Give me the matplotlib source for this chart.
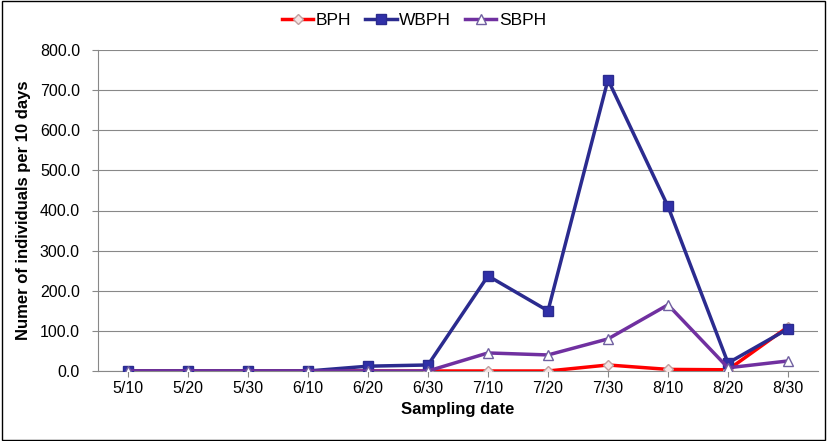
import matplotlib.pyplot as plt
from matplotlib.patches import Rectangle
import numpy as np

plt.rcParams['font.family'] = ['Liberation Sans', 'DejaVu Sans']

dates = ['5/10', '5/20', '5/30', '6/10', '6/20', '6/30', '7/10', '7/20', '7/30', '8/10', '8/20', '8/30']
bph = [0, 0, 0, 0, 0, 0, 0, 0, 15, 4, 3, 110]
wbph = [0, 0, 0, 0, 12, 15, 237, 150, 726, 410, 20, 105]
sbph = [0, 0, 0, 0, 0, 0, 45, 40, 80, 165, 8, 25]

fig = plt.figure(figsize=(8.27, 4.41), dpi=100)
ax = fig.add_axes([98/827, 1 - 371/441, 720/827, 321/441])

x = np.arange(len(dates))
ax.plot(x, bph, color='#ff0000', lw=2.5, marker='D', ms=5, mfc='#f4e4e4', mec='#c0a0a0', label='BPH', zorder=3)
ax.plot(x, wbph, color='#2b2b8f', lw=2.5, marker='s', ms=6.5, mfc='#3030a8', mec='#2b2b8f', label='WBPH', zorder=4)
ax.plot(x, sbph, color='#7030a0', lw=2.5, marker='^', ms=7, mfc='white', mec='#7060a0', label='SBPH', zorder=5)

ax.set_xlim(-0.5, len(dates) - 0.5)
ax.set_ylim(0, 800)
ax.set_yticks(np.arange(0, 801, 100))
ax.set_yticklabels([f'{v:.1f}' for v in range(0, 801, 100)])
ax.set_xticks(x)
ax.set_xticklabels(dates)
ax.yaxis.grid(True, color='#888888', lw=0.8)
ax.set_axisbelow(True)
for s in ['top', 'right']:
    ax.spines[s].set_visible(False)
ax.spines['left'].set_color('#888888')
ax.spines['bottom'].set_color('#888888')
ax.tick_params(labelsize=11.5, length=4, color='#888888')
ax.tick_params(axis='y', pad=9)
ax.set_xlabel('Sampling date', fontsize=12, fontweight='bold', labelpad=4)
ax.set_ylabel('Numer of individuals per 10 days', fontsize=12, fontweight='bold', labelpad=6)

fig.legend(*ax.get_legend_handles_labels(), loc='center', bbox_to_anchor=(414/827, 1 - 20/441),
           ncol=3, frameon=False, fontsize=12.5, handlelength=1.8, columnspacing=0.8,
           handletextpad=0.15, borderaxespad=0, borderpad=0)

fig.patches.append(Rectangle((0.002, 0.003), 0.996, 0.994, transform=fig.transFigure,
                             fill=False, edgecolor='black', lw=1))

fig.savefig('out.png', dpi=100)
